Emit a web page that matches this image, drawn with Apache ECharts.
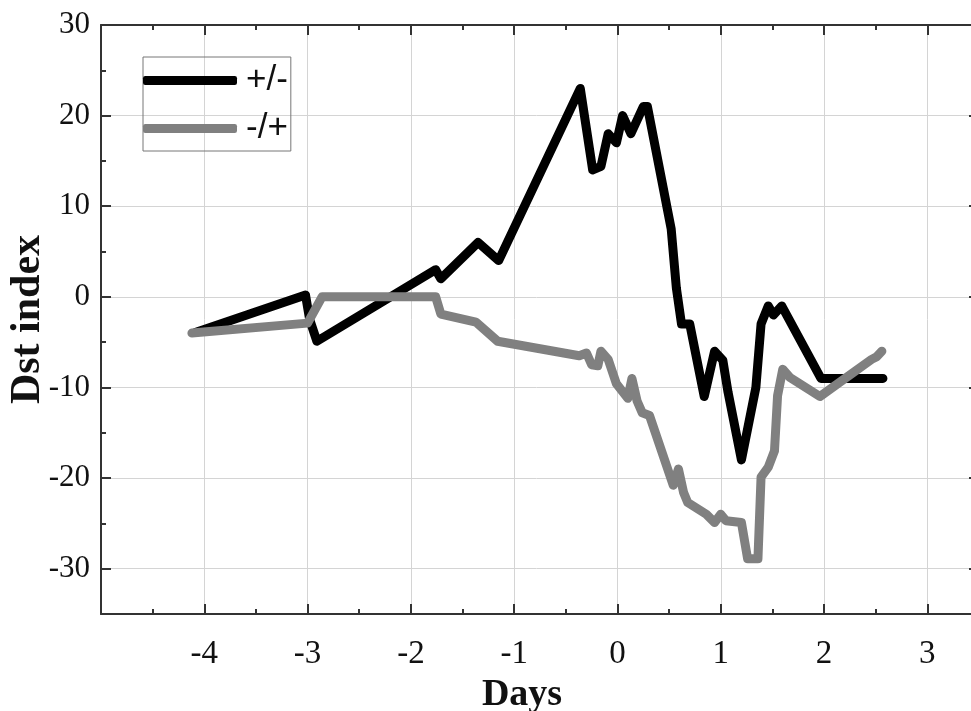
<!DOCTYPE html>
<html>
<head>
<meta charset="utf-8">
<title>Dst index</title>
<script src="https://cdn.jsdelivr.net/npm/echarts@6/dist/echarts.min.js"></script>
<style>
  html, body { margin: 0; padding: 0; background: #fff; }
  #chart { width: 971px; height: 711px; }
</style>
</head>
<body>
<div id="chart"></div>
<script>
// values (days, Dst)
const seriesNames = ['+/-', '-/+']

const plusMinusDays = [-4.08, -3.02, -2.98, -2.91, -1.76, -1.71, -1.35, -1.15, -0.36, -0.24, -0.16, -0.09, -0.01, 0.05, 0.13, 0.25, 0.29, 0.52, 0.57, 0.62, 0.70, 0.84, 0.94, 1.02, 1.07, 1.20, 1.34, 1.39, 1.46, 1.51, 1.59, 1.97, 2.57]
const plusMinusDst = [-3.9, 0.2, -2.5, -4.9, 3.0, 2.0, 6.0, 4.0, 23.0, 14.0, 14.4, 18.0, 17.0, 20.0, 18.0, 21.0, 21.0, 7.5, 1.0, -3.0, -3.0, -11.0, -6.0, -7.0, -10.5, -18.0, -10.0, -3.0, -1.0, -2.0, -1.0, -9.0, -9.0]

const minusPlusDays = [-4.12, -3.00, -2.86, -1.76, -1.71, -1.37, -1.16, -0.37, -0.30, -0.25, -0.19, -0.16, -0.09, -0.01, 0.10, 0.14, 0.19, 0.24, 0.31, 0.54, 0.59, 0.64, 0.68, 0.86, 0.94, 1.00, 1.05, 1.20, 1.26, 1.36, 1.39, 1.46, 1.52, 1.55, 1.60, 1.67, 1.96, 2.46, 2.51, 2.56]
const minusPlusDst = [-4.0, -2.9, 0, 0, -1.9, -2.8, -4.9, -6.5, -6.2, -7.5, -7.6, -6.0, -6.9, -9.6, -11.2, -9.0, -11.5, -12.8, -13.1, -20.8, -19.0, -21.6, -22.7, -24.0, -24.9, -24.0, -24.7, -24.9, -28.9, -28.9, -19.9, -18.8, -17.0, -10.9, -8.0, -8.9, -11.0, -6.9, -6.6, -6.0]

const xMin = -5
const xMax = 3.5
const yMin = -35
const yMax = 30

function pairs (xs, ys) {
  return xs.map((x, i) => [x, ys[i]])
}

const frameColor = '#333'
const serif = 'Liberation Serif'

// one axis of the box frame; major ticks and minor ticks are drawn by separate axes
function frameAxis (position, min, max, step, tickLength, showLine, extra) {
  return Object.assign({
    type: 'value',
    position: position,
    min: min,
    max: max,
    minInterval: step,
    maxInterval: step,
    interval: tickLength < 10 ? step : undefined,
    axisLine: { show: showLine, onZero: false, lineStyle: { color: frameColor, width: 2 } },
    axisTick: { show: true, inside: true, length: tickLength, lineStyle: { color: frameColor, width: 2 } },
    axisLabel: { show: false },
    splitLine: { show: false }
  }, extra || {})
}

const chart = echarts.init(document.getElementById('chart'))
chart.setOption({
  animation: false,
  grid: {
    left: 101,
    right: -8,
    top: 25,
    bottom: 97,
    outerBoundsMode: 'none'
  },
  legend: {
    data: seriesNames,
    orient: 'vertical',
    left: 143,
    top: 57,
    icon: 'roundRect',
    itemWidth: 94,
    itemHeight: 9,
    itemGap: 13,
    padding: [6, 3, 5, 0],
    borderColor: '#777',
    borderWidth: 1,
    textStyle: {
      fontFamily: 'Liberation Sans',
      fontSize: 35,
      color: '#111',
      padding: [0, 0, 0, 4]
    }
  },
  xAxis: [
    frameAxis('bottom', xMin, xMax, 1, 10, true, {
      name: 'Days',
      nameLocation: 'middle',
      nameGap: 62,
      nameTextStyle: { fontFamily: serif, fontWeight: 'bold', fontSize: 38, color: '#111', padding: [0, 36, 0, 0] },
      axisLabel: { show: true, margin: 24, fontFamily: serif, fontSize: 33, color: '#111', showMinLabel: false, showMaxLabel: false },
      splitLine: { show: true, lineStyle: { color: '#d4d4d4', width: 1 } }
    }),
    frameAxis('bottom', xMin, xMax, 0.5, 5, false),
    frameAxis('top', xMin, xMax, 1, 10, true),
    frameAxis('top', xMin, xMax, 0.5, 5, false)
  ],
  yAxis: [
    frameAxis('left', yMin, yMax, 10, 10, true, {
      name: 'Dst index',
      nameLocation: 'middle',
      nameGap: 52,
      nameMoveOverlap: false,
      nameTextStyle: { fontFamily: serif, fontWeight: 'bold', fontSize: 42, color: '#111' },
      axisLabel: { show: true, margin: 11, fontFamily: serif, fontSize: 31, color: '#111', showMinLabel: false },
      splitLine: { show: true, lineStyle: { color: '#d4d4d4', width: 1 } }
    }),
    frameAxis('left', yMin, yMax, 5, 5, false),
    frameAxis('right', yMin, yMax, 10, 10, true),
    frameAxis('right', yMin, yMax, 5, 5, false)
  ],
  series: [
    {
      name: '+/-',
      type: 'line',
      xAxisIndex: 0,
      yAxisIndex: 0,
      showSymbol: false,
      color: '#000',
      itemStyle: { color: '#000' },
      lineStyle: { color: '#000', width: 9, cap: 'round', join: 'round' },
      data: pairs(plusMinusDays, plusMinusDst)
    },
    {
      name: '-/+',
      type: 'line',
      xAxisIndex: 0,
      yAxisIndex: 0,
      showSymbol: false,
      color: '#808080',
      itemStyle: { color: '#808080' },
      lineStyle: { color: '#808080', width: 9, cap: 'round', join: 'round' },
      data: pairs(minusPlusDays, minusPlusDst)
    }
  ]
})
</script>
</body>
</html>
